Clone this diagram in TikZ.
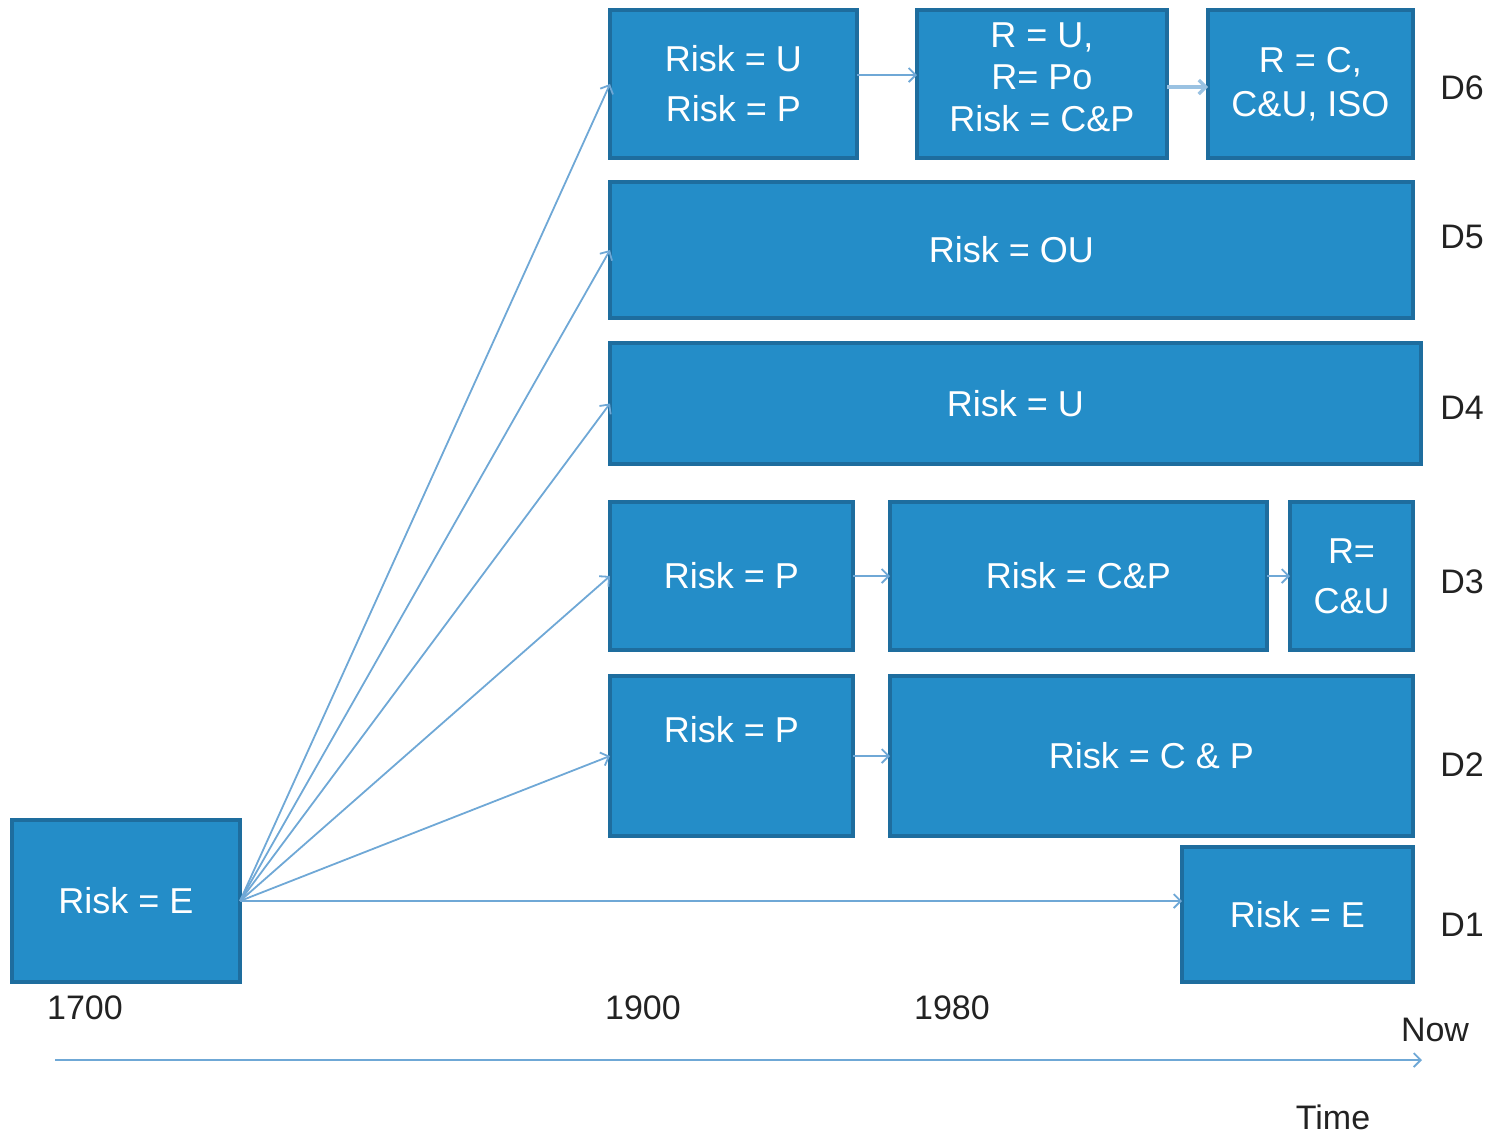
\documentclass[tikz,border=0pt]{standalone}
\usepackage{fontspec}
\setmainfont{Liberation Sans}
\usetikzlibrary{arrows.meta,shadows}
\definecolor{boxfill}{HTML}{248DC8}
\definecolor{boxedge}{HTML}{1E6D9E}
\definecolor{linkblue}{HTML}{6FA8D6}
\definecolor{inkgray}{HTML}{222222}
\tikzset{
  box/.style={draw=boxedge, fill=boxfill, line width=1.8pt, inner sep=0pt, outer sep=0pt,
    text=white, align=center, font=\fontsize{18}{25}\selectfont,
    drop shadow={opacity=0.25, shadow xshift=1pt, shadow yshift=-1pt, fill=gray}},
  boxtext/.style={text=white, align=center, inner sep=0pt},
  link/.style={draw=linkblue, line width=0.9pt, -{Straight Barb[length=3.5pt,width=7pt]}},
  era/.style={text=inkgray, font=\fontsize{17}{20}\selectfont, inner sep=0pt},
}
\begin{document}
\begin{tikzpicture}[x=0.5pt,y=-0.5pt]
\useasboundingbox (0,0) rectangle (1495,1137);

% origin box
\node[box, minimum width=114pt, minimum height=81pt] (E0) at (126,901) {Risk = E};

% D6 row
\node[box, minimum width=123.5pt, minimum height=74pt] (D6a) at (733.5,84) {Risk = U\\Risk = P};
\node[box, minimum width=125pt, minimum height=74pt] (D6b) at (1042,84) {};
\node[boxtext, font=\fontsize{18}{21}\selectfont] (D6bt) at (1042,77) {R = U,\\R= Po\\Risk = C\&P};
\node[box, minimum width=102.5pt, minimum height=74pt, font=\fontsize{18}{22}\selectfont] (D6c) at (1310.5,84) {R = C,\\C\&U, ISO};

% D5 and D4 rows
\node[box, minimum width=401.5pt, minimum height=68pt] (D5) at (1011.5,250) {Risk = OU};
\node[box, minimum width=405.5pt, minimum height=60.5pt] (D4) at (1015.5,403.5) {Risk = U};

% D3 row
\node[box, minimum width=121.5pt, minimum height=74pt] (D3a) at (731.5,576) {Risk = P};
\node[box, minimum width=188.5pt, minimum height=74pt] (D3b) at (1078.5,576) {Risk = C\&P};
\node[box, minimum width=61.5pt, minimum height=74pt] (D3c) at (1351.5,576) {R=\\C\&U};

% D2 row
\node[box, minimum width=121.5pt, minimum height=80pt] (D2a) at (731.5,756) {};
\node[boxtext, font=\fontsize{18}{25}\selectfont] (D2at) at (731.5,730) {Risk = P};
\node[box, minimum width=261.5pt, minimum height=80pt] (D2b) at (1151.5,756) {Risk = C \& P};

% D1 row
\node[box, minimum width=115.5pt, minimum height=67.5pt] (D1) at (1297.5,914.5) {Risk = E};

% row labels
\foreach \n/\y in {6/88, 5/237, 4/408, 3/582, 2/765, 1/925}
  \node[era] (L\n) at (1462,\y) {D\n};

% fan of links from the origin
\draw[link] (E0.east) -- (D6a.west);
\draw[link] (E0.east) -- (D5.west);
\draw[link] (E0.east) -- (D4.west);
\draw[link] (E0.east) -- (D3a.west);
\draw[link] (E0.east) -- (D2a.west);
\draw[link] (E0.east) -- (D1.west |- E0.east);

% links within rows
\draw[link] ([yshift=4.5pt]D6a.east) -- ([yshift=4.5pt]D6b.west);
\draw[link, line width=1.6pt, draw=linkblue!70] ([yshift=-1.5pt]D6b.east) -- ([yshift=-1.5pt]D6c.west);
\draw[link] (D3a.east) -- (D3b.west);
\draw[link] (D3b.east) -- (D3c.west);
\draw[link] (D2a.east) -- (D2b.west);

% time axis
\node[era] (y1700) at (85,1008) {1700};
\node[era] (y1900) at (643,1008) {1900};
\node[era] (y1980) at (952,1008) {1980};
\node[era] (ynow) at (1435,1030) {Now};
\node[era] (ytime) at (1333,1117) {Time};
\coordinate (t0) at (55,1060);
\coordinate (t1) at (1422,1060);
\draw[link] (t0) -- (t1);
\end{tikzpicture}
\end{document}
